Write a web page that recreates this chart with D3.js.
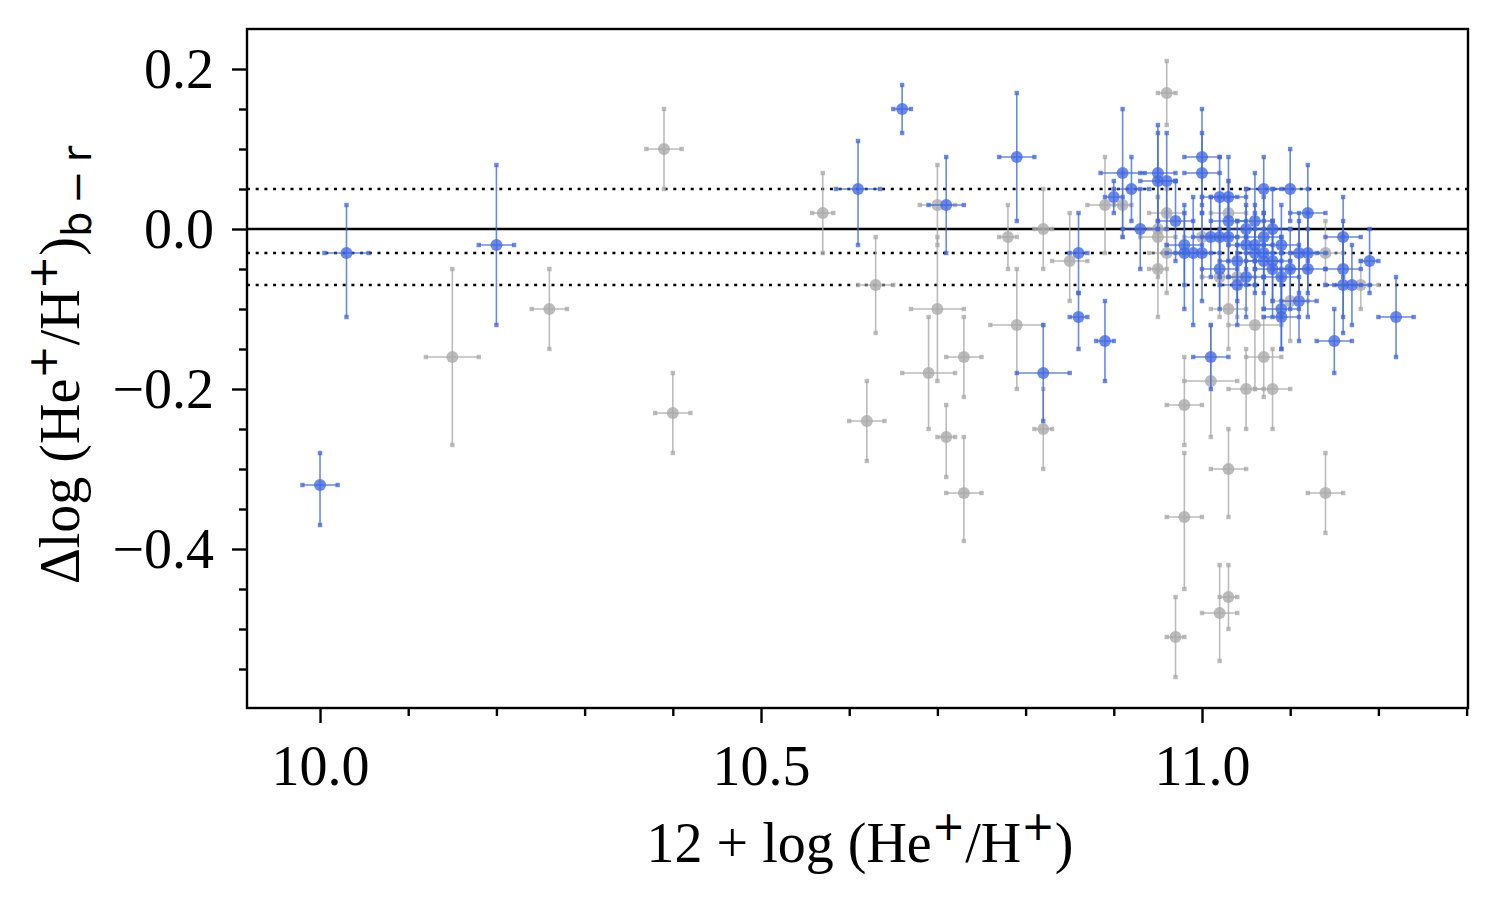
<!DOCTYPE html>
<html>
<head>
<meta charset="utf-8">
<script src="https://cdn.jsdelivr.net/npm/d3@7"></script>
<style>
  body { margin: 0; background: #fff; }
  text { font-family: "Liberation Serif", "Times New Roman", serif; }
</style>
</head>
<body>
<div class="scatter"></div>
<script>
// gray sample (x, y, symmetric x error, lower / upper y error)
var grayX = [10.15, 10.26, 10.39, 10.40, 10.57, 10.63, 10.62, 10.70, 10.70, 10.69, 10.73, 10.71, 10.73,
  10.79, 10.78, 10.82, 10.82, 10.85, 10.89, 10.91, 10.96, 10.96, 10.95, 10.95, 10.95, 10.96, 11.00,
  11.03, 11.02, 11.04, 11.03, 11.06, 11.01, 10.98, 10.98, 10.97, 11.02, 11.03, 11.03, 11.14, 11.05,
  11.08, 11.07, 11.10, 11.14, 11.18];
var grayY = [-0.16, -0.10, 0.10, -0.23, 0.02, -0.07, -0.24, 0.03, -0.10, -0.18, -0.16, -0.26, -0.33,
  -0.12, -0.01, 0.00, -0.25, -0.04, 0.03, 0.03, 0.17, 0.02, 0.00, -0.01, -0.05, -0.03, -0.01,
  0.02, -0.06, -0.06, -0.10, -0.12, -0.19, -0.22, -0.36, -0.51, -0.48, -0.46, -0.30, -0.33, -0.20,
  -0.20, -0.16, -0.09, -0.03, -0.07];
var grayXErr = [0.03, 0.02, 0.02, 0.02, 0.012, 0.02, 0.02, 0.02, 0.03, 0.03, 0.02, 0.01, 0.02,
  0.03, 0.01, 0.01, 0.01, 0.02, 0.02, 0.01, 0.01, 0.02, 0.01, 0.02, 0.01, 0.02, 0.02,
  0.02, 0.02, 0.02, 0.02, 0.03, 0.03, 0.02, 0.02, 0.01, 0.02, 0.01, 0.02, 0.02, 0.02,
  0.02, 0.02, 0.02, 0.02, 0.02];
var grayYLo = [0.11, 0.05, 0.05, 0.05, 0.05, 0.06, 0.05, 0.05, 0.09, 0.07, 0.05, 0.05, 0.06,
  0.08, 0.04, 0.05, 0.05, 0.05, 0.06, 0.04, 0.04, 0.04, 0.05, 0.05, 0.06, 0.05, 0.05,
  0.04, 0.05, 0.05, 0.05, 0.08, 0.07, 0.05, 0.09, 0.05, 0.06, 0.04, 0.06, 0.05, 0.05,
  0.05, 0.05, 0.05, 0.04, 0.03];
var grayYHi = [0.11, 0.05, 0.05, 0.05, 0.05, 0.06, 0.05, 0.05, 0.09, 0.07, 0.05, 0.04, 0.07,
  0.07, 0.04, 0.05, 0.05, 0.06, 0.06, 0.04, 0.04, 0.03, 0.04, 0.05, 0.05, 0.05, 0.05,
  0.04, 0.05, 0.05, 0.06, 0.08, 0.07, 0.06, 0.08, 0.05, 0.06, 0.04, 0.05, 0.05, 0.05,
  0.05, 0.05, 0.05, 0.04, 0.03];

// blue sample
var blueX = [10.00, 10.03, 10.20, 10.61, 10.66, 10.71, 10.79, 10.82, 10.86, 10.86, 10.89, 10.91, 10.90,
  10.92, 10.93, 10.95, 10.95, 10.96, 10.97, 10.98, 10.98, 10.99, 11.00, 11.00, 11.00, 11.01, 11.02,
  11.03, 11.02, 11.02, 11.03, 11.03, 11.04, 11.04, 11.05, 11.05, 11.05, 11.06, 11.06, 11.06, 11.07,
  11.07, 11.07, 11.07, 11.08, 11.08, 11.08, 11.09, 11.09, 11.09, 11.09, 11.10, 11.10, 11.11, 11.11,
  11.12, 11.12, 11.12, 11.15, 11.16, 11.16, 11.16, 11.17, 11.19, 11.22, 11.01];
var blueY = [-0.32, -0.03, -0.02, 0.05, 0.15, 0.03, 0.09, -0.18, -0.03, -0.11, -0.14, 0.07, 0.04,
  0.05, 0.00, 0.07, 0.06, 0.06, 0.01, -0.02, -0.03, -0.03, -0.03, 0.09, 0.07, -0.01, 0.04,
  0.04, -0.01, -0.05, 0.01, -0.01, -0.04, -0.07, 0.00, -0.02, -0.06, 0.01, -0.02, -0.03, 0.05,
  -0.01, -0.03, -0.04, 0.00, -0.04, -0.05, -0.02, -0.06, -0.10, -0.11, 0.05, -0.05, -0.03, -0.09,
  0.02, -0.03, -0.05, -0.14, -0.01, -0.05, -0.07, -0.07, -0.04, -0.11, -0.16];
var blueXErr = [0.02, 0.025, 0.02, 0.025, 0.01, 0.02, 0.02, 0.03, 0.01, 0.01, 0.01, 0.025, 0.01,
  0.02, 0.02, 0.02, 0.02, 0.01, 0.02, 0.02, 0.02, 0.02, 0.02, 0.02, 0.02, 0.02, 0.02,
  0.02, 0.02, 0.02, 0.02, 0.02, 0.02, 0.02, 0.02, 0.02, 0.02, 0.02, 0.02, 0.02, 0.02,
  0.02, 0.02, 0.02, 0.02, 0.02, 0.02, 0.02, 0.02, 0.02, 0.02, 0.02, 0.02, 0.02, 0.02,
  0.02, 0.02, 0.02, 0.02, 0.02, 0.02, 0.02, 0.02, 0.01, 0.02, 0.02];
var blueYLo = [0.05, 0.08, 0.10, 0.07, 0.03, 0.06, 0.08, 0.06, 0.05, 0.04, 0.05, 0.08, 0.02,
  0.04, 0.05, 0.06, 0.06, 0.06, 0.05, 0.05, 0.07, 0.09, 0.06, 0.06, 0.05, 0.05, 0.05,
  0.05, 0.05, 0.05, 0.05, 0.05, 0.05, 0.05, 0.05, 0.05, 0.05, 0.06, 0.05, 0.05, 0.04,
  0.05, 0.05, 0.06, 0.05, 0.05, 0.06, 0.05, 0.05, 0.05, 0.04, 0.04, 0.05, 0.05, 0.05,
  0.06, 0.05, 0.06, 0.04, 0.05, 0.06, 0.06, 0.05, 0.04, 0.05, 0.04];
var blueYHi = [0.04, 0.06, 0.10, 0.06, 0.03, 0.06, 0.08, 0.06, 0.05, 0.03, 0.05, 0.08, 0.02,
  0.04, 0.05, 0.06, 0.06, 0.06, 0.05, 0.05, 0.05, 0.07, 0.05, 0.06, 0.05, 0.05, 0.05,
  0.05, 0.05, 0.05, 0.05, 0.05, 0.05, 0.05, 0.05, 0.05, 0.05, 0.06, 0.05, 0.05, 0.04,
  0.05, 0.05, 0.06, 0.05, 0.05, 0.06, 0.05, 0.05, 0.05, 0.05, 0.05, 0.05, 0.05, 0.10,
  0.06, 0.05, 0.05, 0.04, 0.05, 0.06, 0.06, 0.05, 0.04, 0.05, 0.04];

// reference lines
var solidLines = [0.0];
var dottedLines = [0.05, -0.03, -0.07];

// ticks
var xMajor = [10.0, 10.5, 11.0];
var xMinor = [10.1, 10.2, 10.3, 10.4, 10.6, 10.7, 10.8, 10.9, 11.1, 11.2, 11.3];
var yMajor = [0.2, 0.0, -0.2, -0.4];
var yMinor = [0.15, 0.1, 0.05, -0.05, -0.1, -0.15, -0.25, -0.3, -0.35, -0.45, -0.5, -0.55];

var svgWidth = 1497;
var svgHeight = 904;
var margin = { top: 29, right: 29, bottom: 196, left: 247 };
var width = svgWidth - margin.left - margin.right;
var height = svgHeight - margin.top - margin.bottom;

var fontSize = 56;
var supSize = 40;

var svg = d3.select(".scatter")
  .append("svg")
  .attr("width", svgWidth)
  .attr("height", svgHeight);

var chartGroup = svg.append("g")
  .attr("transform", `translate(${margin.left}, ${margin.top})`);

var xScale = d3.scaleLinear().domain([9.9172, 11.3016]).range([0, width]);
var yScale = d3.scaleLinear().domain([-0.59875, 0.25]).range([height, 0]);

// reference lines
chartGroup.selectAll(".solid")
  .data(solidLines).enter().append("line")
  .attr("x1", 0).attr("x2", width)
  .attr("y1", d => yScale(d)).attr("y2", d => yScale(d))
  .attr("stroke", "black").attr("stroke-width", 2.4);

chartGroup.selectAll(".dotted")
  .data(dottedLines).enter().append("line")
  .attr("x1", 0).attr("x2", width)
  .attr("y1", d => yScale(d)).attr("y2", d => yScale(d))
  .attr("stroke", "black").attr("stroke-width", 2.6)
  .attr("stroke-dasharray", "3,5.7");

function drawSeries(xs, ys, xe, ylo, yhi, color) {
  var rows = xs.map((x, i) => ({ x: x, y: ys[i], xe: xe[i], ylo: ylo[i], yhi: yhi[i] }));
  var g = chartGroup.append("g");
  var alpha = 0.78;
  var cap = 2.2;

  rows.forEach(function(d) {
    var cx = xScale(d.x), cy = yScale(d.y);
    var x0 = xScale(d.x - d.xe), x1 = xScale(d.x + d.xe);
    var y0 = yScale(d.y + d.yhi), y1 = yScale(d.y - d.ylo);

    g.append("line").attr("x1", x0).attr("x2", x1).attr("y1", cy).attr("y2", cy)
      .attr("stroke", color).attr("stroke-width", 1.6).attr("opacity", alpha);
    g.append("line").attr("x1", cx).attr("x2", cx).attr("y1", y0).attr("y2", y1)
      .attr("stroke", color).attr("stroke-width", 1.6).attr("opacity", alpha);

    // little square caps
    [[x0, cy], [x1, cy], [cx, y0], [cx, y1]].forEach(function(p) {
      g.append("rect")
        .attr("x", p[0] - cap).attr("y", p[1] - cap)
        .attr("width", cap * 2).attr("height", cap * 2)
        .attr("fill", color).attr("opacity", alpha);
    });

    g.append("circle").attr("cx", cx).attr("cy", cy).attr("r", 6)
      .attr("fill", color).attr("opacity", alpha);
  });
}

drawSeries(grayX, grayY, grayXErr, grayYLo, grayYHi, "#a9a9a9");
drawSeries(blueX, blueY, blueXErr, blueYLo, blueYHi, "#4169e1");

// axes
var fmt = d3.format(".1f");

var xAxis = chartGroup.append("g")
  .attr("transform", `translate(0, ${height})`)
  .call(d3.axisBottom(xScale).tickValues(xMajor).tickSize(15).tickFormat(fmt));
chartGroup.append("g")
  .attr("transform", `translate(0, ${height})`)
  .call(d3.axisBottom(xScale).tickValues(xMinor).tickSize(8).tickFormat(""));

var yAxis = chartGroup.append("g")
  .call(d3.axisLeft(yScale).tickValues(yMajor).tickSize(15).tickFormat(fmt));
chartGroup.append("g")
  .call(d3.axisLeft(yScale).tickValues(yMinor).tickSize(8).tickFormat(""));

chartGroup.selectAll(".domain").remove();
chartGroup.selectAll(".tick line").attr("stroke", "black").attr("stroke-width", 2.4);

xAxis.selectAll("text")
  .attr("y", 77).attr("dy", 0)
  .attr("font-size", fontSize).attr("fill", "black")
  .style("font-family", "'Liberation Serif', serif");

yAxis.selectAll("text")
  .attr("x", -33).attr("dy", "0.33em")
  .attr("font-size", fontSize).attr("fill", "black")
  .style("font-family", "'Liberation Serif', serif");

// frame
chartGroup.append("rect")
  .attr("width", width).attr("height", height)
  .attr("fill", "none").attr("stroke", "black").attr("stroke-width", 2.4);

function sup(label, s) {
  label.append("tspan").attr("dy", -22).attr("font-size", supSize)
    .style("font-family", "'DejaVu Sans', sans-serif").text(s);
}

// x label
var xLabel = svg.append("text")
  .attr("x", 860)
  .attr("y", 862)
  .attr("text-anchor", "middle")
  .attr("font-size", fontSize);
xLabel.append("tspan").text("12 + log (He");
sup(xLabel, "+");
xLabel.append("tspan").attr("dy", 22).text("/H");
sup(xLabel, "+");
xLabel.append("tspan").attr("dy", 22).text(")");

// y label
var yLabel = svg.append("text")
  .attr("transform", "translate(79, 365) rotate(-90)")
  .attr("text-anchor", "middle")
  .attr("font-size", fontSize);
yLabel.append("tspan").text("Δlog (He");
sup(yLabel, "+");
yLabel.append("tspan").attr("dy", 22).text("/H");
sup(yLabel, "+");
yLabel.append("tspan").attr("dy", 22).text(")");
yLabel.append("tspan").attr("dy", 12).attr("font-size", supSize)
  .style("font-family", "'DejaVu Sans', sans-serif").text("b\u2009\u2212\u2009r");
</script>
</body>
</html>
